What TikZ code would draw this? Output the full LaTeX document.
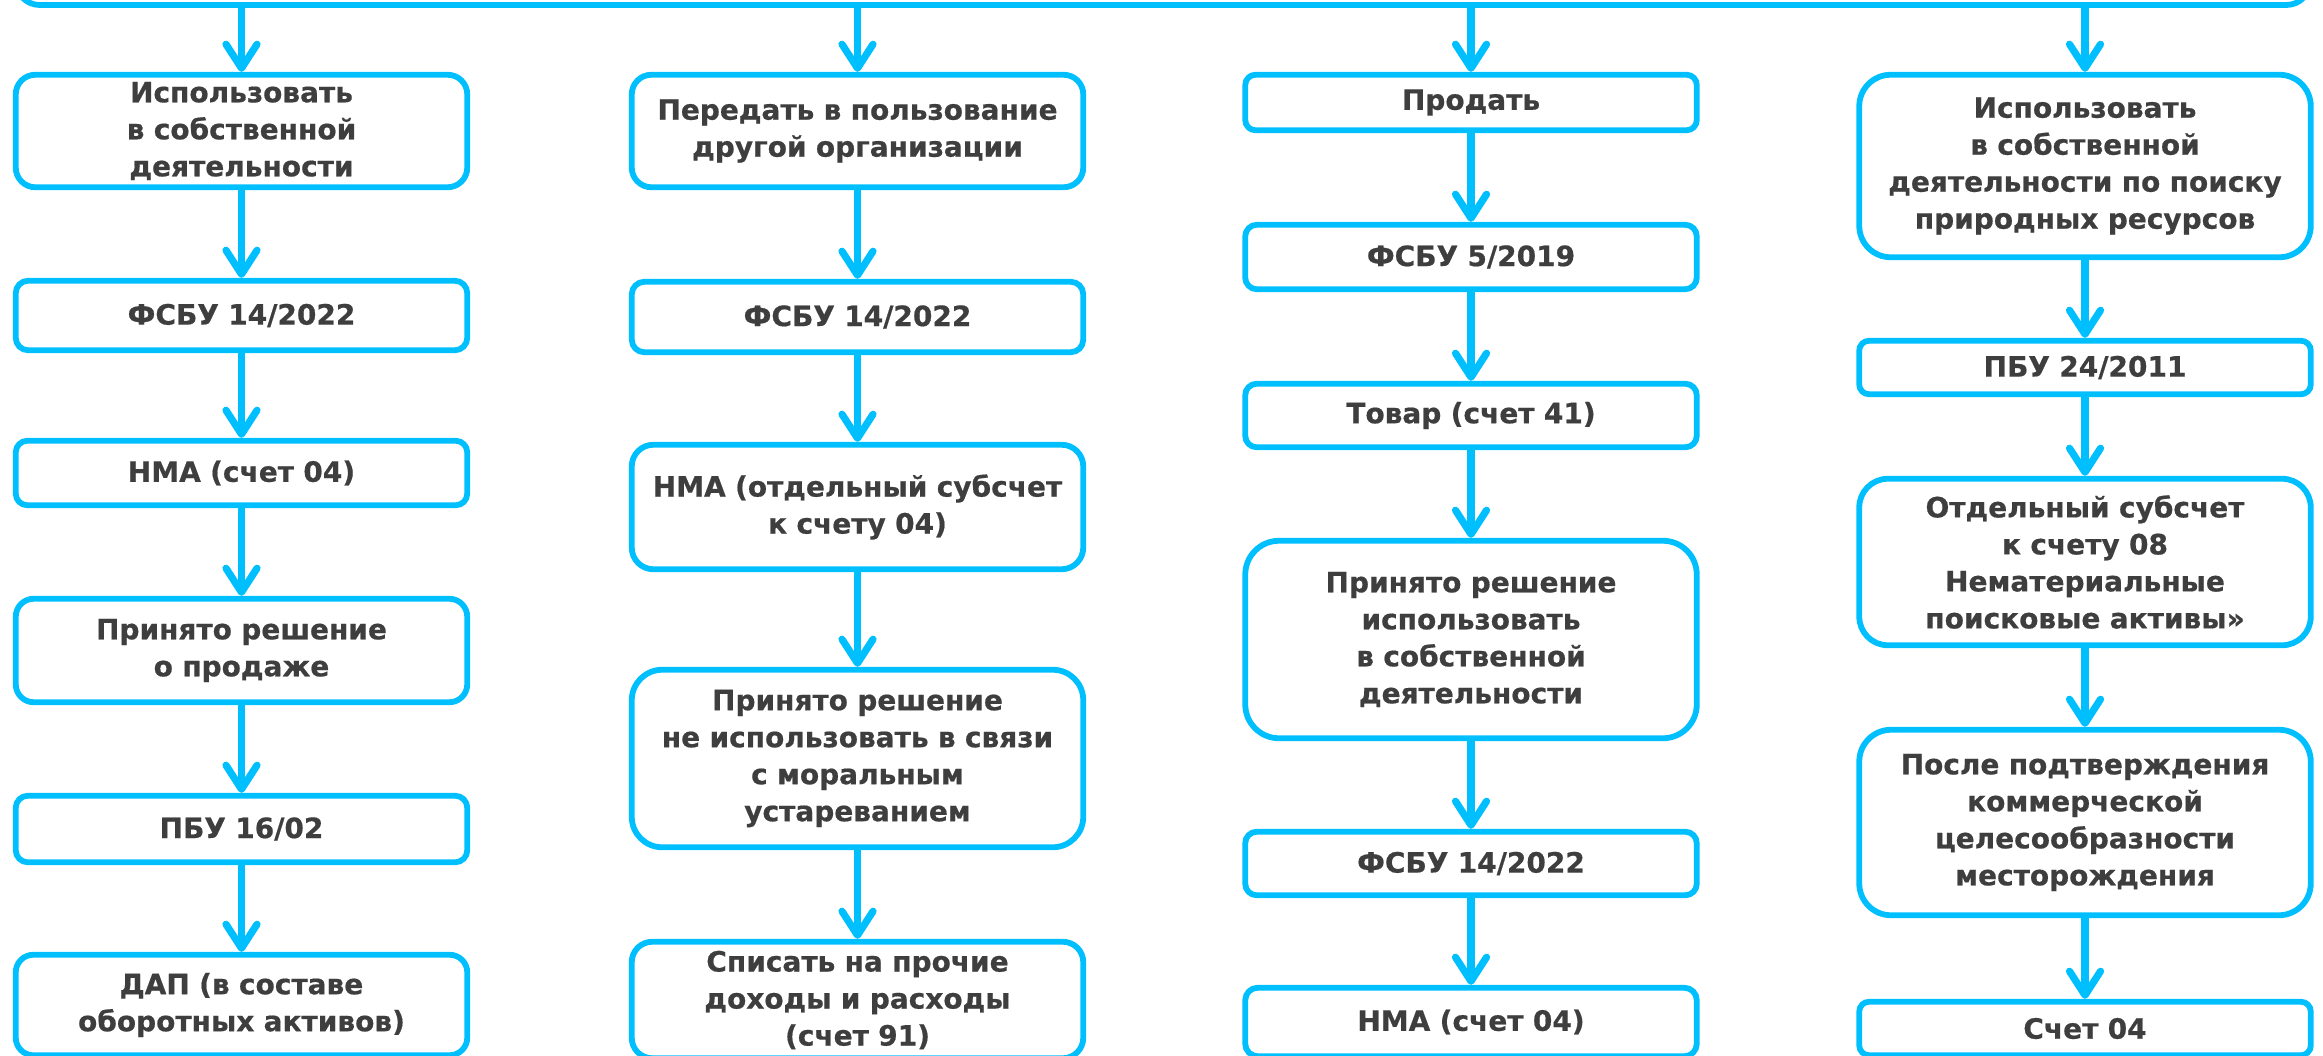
\documentclass[tikz,border=0pt]{standalone}
\usepackage{fontspec}
\setmainfont{DejaVu Sans}[BoldFeatures={FakeBold=0.6}]
\usetikzlibrary{arrows.meta}
\definecolor{skyline}{RGB}{0,191,255}
\definecolor{inktext}{RGB}{62,62,62}
\tikzset{
  box/.style={draw=skyline, line width=2.9pt, text=inktext,
    font=\bfseries\fontsize{14}{18.5}\selectfont, align=center,
    text width=224pt, minimum width=225.75pt, inner sep=0pt},
  arr/.style={draw=skyline, line width=3.6pt,
    -{Straight Barb[length=12pt,width=15.5pt,round]}},
}
\begin{document}
\begin{tikzpicture}[x=0.5pt,y=-0.5pt]
\useasboundingbox (0,0) rectangle (2323,1055);
\clip (0,0) rectangle (2323,1055);
% top bar, mostly off the page
\node[box, minimum width=1147.25pt, minimum height=60pt, rounded corners=12pt] (top) at (1163,-55) {};
% column 1
\node[box, minimum height=56.25pt, rounded corners=9.8pt] (A1) at (241.5,131) {Использовать\\в собственной\\деятельности};
\node[box, minimum height=34.75pt, rounded corners=6.2pt] (A2) at (241.5,315.5) {ФСБУ 14/2022};
\node[box, minimum height=32.25pt, rounded corners=5.8pt] (A3) at (241.5,473) {НМА (счет 04)};
\node[box, minimum height=51.75pt, rounded corners=9pt] (A4) at (241.5,650.5) {Принято решение\\о продаже};
\node[box, minimum height=33.25pt, rounded corners=6pt] (A5) at (241.5,829) {ПБУ 16/02};
\node[box, minimum height=50.25pt, rounded corners=8.8pt] (A6) at (241.5,1005) {ДАП (в составе\\оборотных активов)};
% column 2
\node[box, minimum height=56.25pt, rounded corners=9.8pt] (B1) at (857.5,131) {Передать в пользование\\другой организации};
\node[box, minimum height=35.25pt, rounded corners=6.3pt] (B2) at (857.5,317) {ФСБУ 14/2022};
\node[box, minimum height=62.25pt, rounded corners=10.8pt] (B3) at (857.5,507) {НМА (отдельный субсчет\\к счету 04)};
\node[box, minimum height=88.75pt, rounded corners=15.2pt] (B4) at (857.5,758.5) {Принято решение\\не использовать в связи\\с моральным\\устареванием};
\node[box, minimum height=58.25pt, rounded corners=10.2pt] (B5) at (857.5,1000) {Списать на прочие\\доходы и расходы\\(счет 91)};
% column 3
\node[box, minimum height=27.75pt, rounded corners=5.1pt] (C1) at (1471,102.5) {Продать};
\node[box, minimum height=32.25pt, rounded corners=5.8pt] (C2) at (1471,257) {ФСБУ 5/2019};
\node[box, minimum height=31.75pt, rounded corners=5.7pt] (C3) at (1471,415.5) {Товар (счет 41)};
\node[box, minimum height=98.75pt, rounded corners=16.9pt] (C4) at (1471,639.5) {Принято решение\\использовать\\в собственной\\деятельности};
\node[box, minimum height=31.75pt, rounded corners=5.7pt] (C5) at (1471,863.5) {ФСБУ 14/2022};
\node[box, minimum height=34.25pt, rounded corners=6.2pt] (C6) at (1471,1022) {НМА (счет 04)};
% column 4
\node[box, minimum height=91.25pt, rounded corners=15.7pt] (D1) at (2085,166) {Использовать\\в собственной\\деятельности по поиску\\природных ресурсов};
\node[box, minimum height=26.75pt, rounded corners=4.9pt] (D2) at (2085,367.5) {ПБУ 24/2011};
\node[box, minimum height=83.25pt, rounded corners=14.3pt] (D3) at (2085,562) {Отдельный субсчет\\к счету 08\\Нематериальные\\поисковые активы»};
\node[box, minimum height=92.75pt, rounded corners=15.9pt] (D4) at (2085,822.5) {После подтверждения\\коммерческой\\целесообразности\\месторождения};
\node[box, minimum height=26.75pt, rounded corners=4.9pt] (D5) at (2085,1028.5) {Счет 04};
% arrows
\foreach \n in {A1,B1,C1,D1}
  \draw[arr] (\n |- top.south) -- (\n);
\foreach \a/\b in {A1/A2,A2/A3,A3/A4,A4/A5,A5/A6,B1/B2,B2/B3,B3/B4,B4/B5,
  C1/C2,C2/C3,C3/C4,C4/C5,C5/C6,D1/D2,D2/D3,D3/D4,D4/D5}
  \draw[arr] (\a) -- (\b);
\end{tikzpicture}
\end{document}
